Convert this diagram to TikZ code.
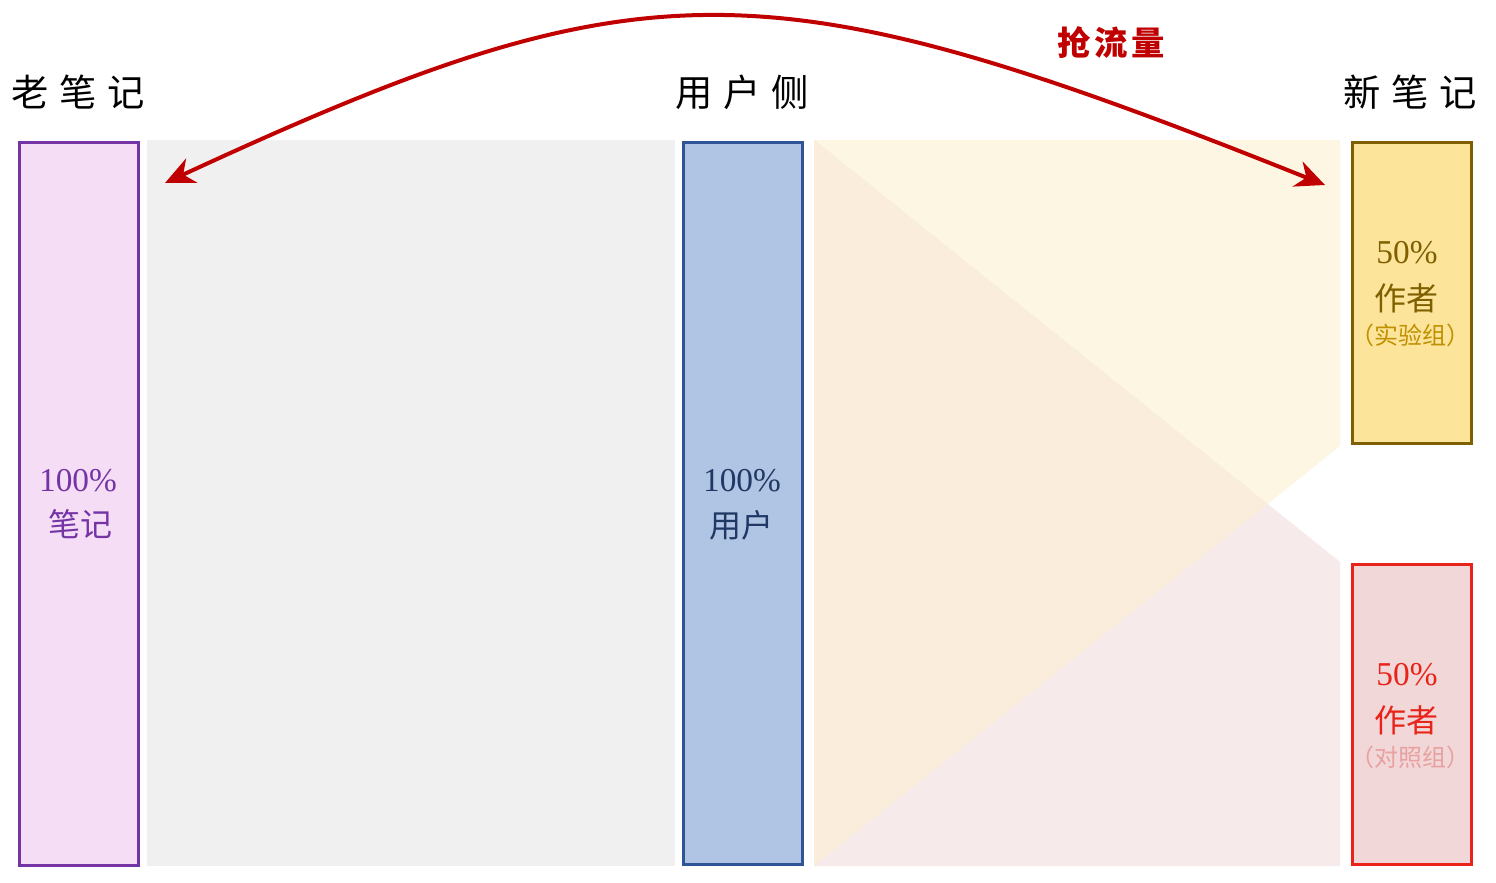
\documentclass[tikz,border=0pt]{standalone}
\usepackage{fontspec}
\newfontfamily\cjk{Noto Sans CJK SC}
\newfontfamily\numfont{Liberation Serif}
\usetikzlibrary{arrows.meta}
\definecolor{graybg}{HTML}{F1F0F1}
\definecolor{ylwband}{HTML}{FCF6E2}
\definecolor{pnkband}{HTML}{F6EAEA}
\definecolor{ovlband}{HTML}{FAEDDC}
\definecolor{purpfill}{HTML}{F5DEF5}
\definecolor{purpline}{HTML}{7434A6}
\definecolor{bluefill}{HTML}{B0C4E4}
\definecolor{blueline}{HTML}{2F5597}
\definecolor{bluetext}{HTML}{1F3864}
\definecolor{ylwfill}{HTML}{FDE49B}
\definecolor{ylwline}{HTML}{7F6000}
\definecolor{ylwsub}{HTML}{BF9000}
\definecolor{redfill}{HTML}{F2D7D8}
\definecolor{redline}{HTML}{E8241A}
\definecolor{redsub}{HTML}{E8A0A0}
\definecolor{arrowred}{HTML}{C00000}
\tikzset{
  colbox/.style={draw, line width=2.6pt, minimum width=89pt, inner sep=0pt},
  header/.style={font=\cjk\fontsize{28}{30}\selectfont, text=black, inner sep=0pt},
  pct/.style={font=\numfont\fontsize{25}{27}\selectfont, inner sep=0pt},
  cjkmain/.style={font=\cjk\fontsize{24}{26}\selectfont, inner sep=0pt},
  cjksub/.style={font=\cjk\fontsize{18}{20}\selectfont, inner sep=0pt},
}
\begin{document}
\begin{tikzpicture}[x=0.75pt,y=-0.75pt]
\useasboundingbox (0,0) rectangle (1496,882);
\fill[white] (0,0) rectangle (1496,882);
% background bands
\fill[graybg] (147,140) rectangle (675,866);
\fill[ylwband] (814,140) -- (1340,140) -- (1340,446) -- (814,866) -- cycle;
\fill[pnkband] (814,140) -- (1340,562) -- (1340,866) -- (814,866) -- cycle;
\begin{scope}
  \clip (814,140) -- (1340,140) -- (1340,446) -- (814,866) -- cycle;
  \fill[ovlband] (814,140) -- (1340,562) -- (1340,866) -- (814,866) -- cycle;
\end{scope}
% boxes
\node[colbox, draw=purpline, fill=purpfill, minimum height=542pt] (old) at (79,504) {};
\node[colbox, draw=blueline, fill=bluefill, minimum height=541.5pt] (user) at (743,503.5) {};
\node[colbox, draw=ylwline, fill=ylwfill, minimum height=226pt] (exp) at (1412,293) {};
\node[colbox, draw=redline, fill=redfill, minimum height=225pt] (ctl) at (1412,714.5) {};
% headers
\node[header] (hold) at (78,92) {老\hspace{8pt}笔\hspace{8pt}记};
\node[header] (huser) at (742,92) {用\hspace{8pt}户\hspace{8pt}侧};
\node[header] (hnew) at (1410,92) {新\hspace{8pt}笔\hspace{8pt}记};
% box texts
\node[pct, text=purpline] (oldp) at (78,481) {100\%};
\node[cjkmain, text=purpline] (oldt) at (80,524) {笔记};
\node[pct, text=bluetext] (userp) at (742,481) {100\%};
\node[cjkmain, text=bluetext] (usert) at (741,525) {用户};
\node[pct, text=ylwline] (expp) at (1407,253) {50\%};
\node[cjkmain, text=ylwline] (expt) at (1406,298) {作者};
\node[cjksub, text=ylwsub] (exps) at (1410,335) {（实验组）};
\node[pct, text=redline] (ctlp) at (1407,675) {50\%};
\node[cjkmain, text=redline] (ctlt) at (1406,720) {作者};
\node[cjksub, text=redsub] (ctls) at (1410,757) {（对照组）};
% arrow
\coordinate (aL) at (165,183);
\coordinate (aR) at (1325,185);
\draw[arrowred, line width=3pt, {Stealth[length=22pt,width=20pt,inset=7pt]}-{Stealth[length=22pt,width=20pt,inset=7pt]}]
  (aL) .. controls (645,-39) and (765,-39) .. (aR);
\node[font=\cjk\bfseries\fontsize{25}{27}\selectfont, text=arrowred, inner sep=0pt] (grab) at (1111,42) {抢\hspace{3pt}流\hspace{3pt}量};
\end{tikzpicture}
\end{document}
